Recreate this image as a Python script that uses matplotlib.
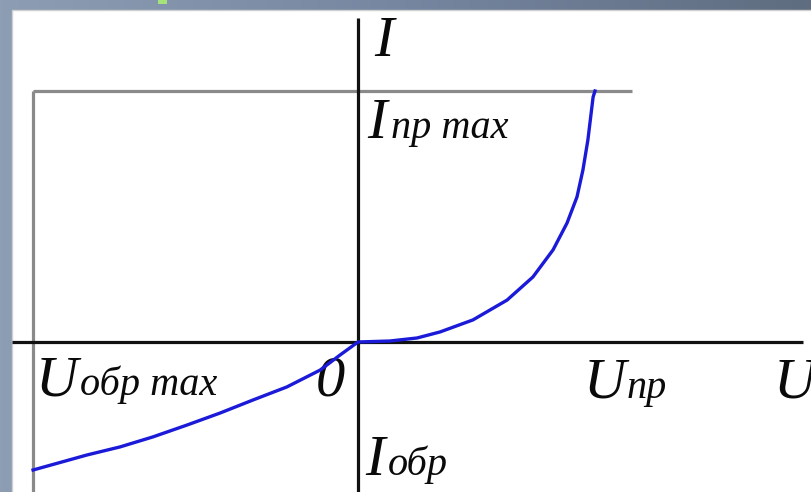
import numpy as np
import matplotlib
matplotlib.use("Agg")
import matplotlib.pyplot as plt
from matplotlib.patches import Rectangle
from matplotlib.colors import LinearSegmentedColormap

# ---- data (normalised units: U_np = 1, I_np_max = 1) ----
U_fwd = [0.0, 0.135, 0.249, 0.346, 0.485, 0.629, 0.738, 0.823, 0.882, 0.924, 0.949, 0.970, 0.992, 1.0]
I_fwd = [0.0, 0.004, 0.016, 0.040, 0.088, 0.167, 0.259, 0.367, 0.474, 0.578, 0.685, 0.805, 0.976, 1.0]
U_rev = [0.0, -0.076, -0.160, -0.300, -0.443, -0.582, -0.722, -0.865, -1.004, -1.143, -1.371]
I_rev = [0.0, -0.052, -0.112, -0.179, -0.231, -0.283, -0.331, -0.378, -0.418, -0.450, -0.510]
U_obr_max = -1.371
I_np_max = 1.0

W, H = 811, 492
fig = plt.figure(figsize=(W / 100, H / 100), dpi=100)

# background overlay in pixel coordinates
bg = fig.add_axes([0, 0, 1, 1])
bg.set_xlim(0, W)
bg.set_ylim(H, 0)
bg.axis("off")
grad = np.linspace(0, 1, 256)[None, :]
cm = LinearSegmentedColormap.from_list("g", ["#8d9db3", "#7686a0", "#5f6d80"])
bg.imshow(grad, extent=[0, W, H, 0], aspect="auto", cmap=cm, zorder=0)
bg.add_patch(Rectangle((12, 10), W, H, facecolor="white", edgecolor="#cfcfcf", lw=1, zorder=1))
bg.add_patch(Rectangle((158, 0), 9, 4, facecolor="#a6e27a", edgecolor="none", zorder=1))

# data axes: pixel 358 -> U=0, 237 px per unit; pixel 342 -> I=0, 251 px per unit
ax = fig.add_axes([0, 0, 1, 1])
ax.patch.set_alpha(0)
ax.axis("off")
ax.set_xlim((0 - 358) / 237, (W - 358) / 237)
ax.set_ylim((342 - H) / 251, 342 / 251)

# gray limit lines
ax.plot([U_obr_max, U_obr_max], [(342 - H) / 251, I_np_max], color="#8a8a8a", lw=2.3,
        solid_capstyle="butt", zorder=2)
ax.plot([U_obr_max, (632 - 358) / 237], [I_np_max, I_np_max], color="#8a8a8a", lw=2.3,
        solid_capstyle="butt", zorder=2)

# main axes lines
ax.plot([(12 - 358) / 237, (803 - 358) / 237], [0, 0], color="#111111", lw=2.3,
        solid_capstyle="butt", zorder=3)
ax.plot([0, 0], [(342 - H) / 251, (342 - 18) / 251], color="#111111", lw=2.3,
        solid_capstyle="butt", zorder=3)

# characteristic curve
ax.plot(U_rev[::-1] + U_fwd[1:], I_rev[::-1] + I_fwd[1:], color="#1a1ad8", lw=2.4,
        solid_joinstyle="round", zorder=4)

# labels (pixel coordinates)
big = dict(family="Liberation Serif", style="italic", fontsize=42, color="#0a0a0a", zorder=5)
small = dict(family="Liberation Serif", style="italic", fontsize=29, color="#0a0a0a", zorder=5)

def lab(x, y, main, sub=None, subx=None):
    bg.text(x, y, main, ha="left", va="baseline", **big)
    if sub:
        bg.text(subx, y, sub, ha="left", va="baseline", **small)

lab(374, 56, "I")
lab(367, 138, "I", "пр max", 391)
lab(36, 395, "U", "обр max", 80)
lab(316, 395, "0")
lab(584, 398, "U", "пр", 627)
lab(774, 398, "U")
lab(365, 475, "I", "обр", 388)

fig.savefig("out.png", dpi=100)
